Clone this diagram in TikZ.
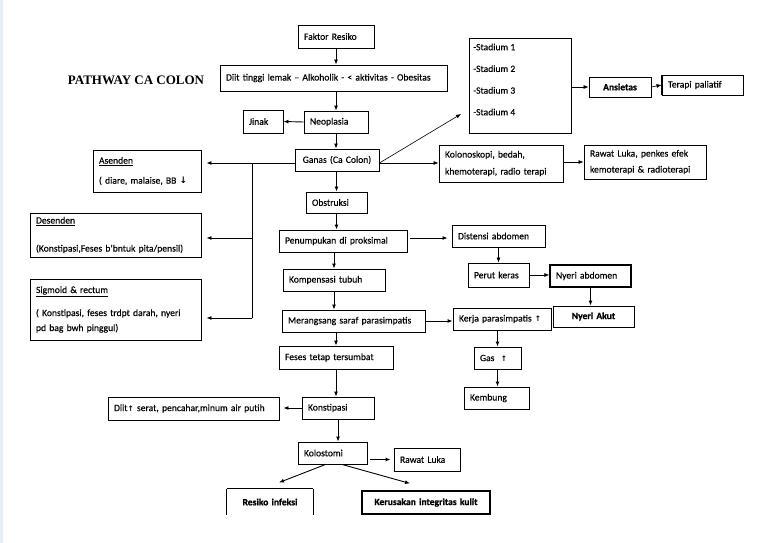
\documentclass[tikz,border=0pt]{standalone}
\usepackage{fontspec}
\setmainfont{Carlito}[UprightFeatures={FakeBold=0.25}]
\newfontfamily\cbold{Carlito Bold}[UprightFeatures={FakeBold=0.9}]
\newfontfamily\titlefont{Liberation Serif}
\newfontfamily\arrfont{DejaVu Sans}
\usetikzlibrary{arrows.meta,calc}
\newcommand{\upar}{{\arrfont\bfseries\fontsize{7.5}{8}\selectfont ↑}}
\newcommand{\dnar}{{\arrfont\bfseries\fontsize{9}{8}\selectfont ↓}}
\begin{document}
\begin{tikzpicture}[x=1pt,y=-1pt,
  box/.style={draw=black,line width=0.9pt,inner xsep=6pt,inner ysep=0pt,align=left,
    font=\fontsize{9.6}{15}\selectfont,anchor=center},
  cbox/.style={box,align=center,font=\cbold\fontsize{9.6}{15}\selectfont},
  arr/.style={draw=black,line width=0.9pt,-{Latex[length=5pt,width=4pt]}},
  thinarr/.style={arr,line width=0.6pt},
  ln/.style={draw=black,line width=0.9pt}]
\useasboundingbox (0,0) rectangle (768,543);
\fill[fill={rgb,255:red,232;green,238;blue,248}] (0,0) rectangle (3,543);

% title
\node[font=\titlefont\bfseries\fontsize{13}{15}\selectfont] (title) at (136,80) {PATHWAY CA COLON};

% centre column
\node[box,minimum width=76pt,minimum height=23pt,text width=64pt] (faktor) at (336,36.5) {Faktor Resiko};
\node[box,minimum width=227pt,minimum height=26pt,text width=215pt] (diit1) at (333.5,78) {Diit tinggi lemak -- Alkoholik - < aktivitas - Obesitas};
\node[box,minimum width=64pt,minimum height=22pt,text width=52pt] (neo) at (336,122) {Neoplasia};
\node[box,minimum width=40pt,minimum height=23pt,text width=28pt] (jinak) at (263,121.5) {Jinak};
\node[box,minimum width=84pt,minimum height=22pt,text width=72pt,align=center] (ganas) at (337,160) {Ganas (Ca Colon)};
\node[box,minimum width=102pt,minimum height=95pt,text width=90pt] (stad) at (520,85.5) {};
\node[anchor=west,align=left,inner sep=0pt,font=\fontsize{9.6}{21.7}\selectfont] (stadtext) at (473,79.5) {-Stadium 1\\-Stadium 2\\-Stadium 3\\-Stadium 4};
\node[cbox,minimum width=62pt,minimum height=20pt,text width=50pt] (ansi) at (620,87) {Ansietas};
\node[box,minimum width=81pt,minimum height=20pt,text width=69pt] (terapi) at (702.5,85) {Terapi paliatif};
\draw[line width=1.6pt] (terapi.north west) -- (terapi.south west);
\node[box,minimum width=124pt,minimum height=37pt,text width=112pt,font=\fontsize{9.6}{17}\selectfont] (kolo) at (501,163.5) {Kolonoskopi, bedah,\\khemoterapi, radio terapi};
\node[box,minimum width=122pt,minimum height=34pt,text width=110pt,font=\fontsize{9.6}{16}\selectfont] (rawat1) at (645,162) {Rawat Luka, penkes efek\\kemoterapi \& radioterapi};

% left boxes
\node[box,minimum width=108pt,minimum height=42pt,text width=96pt] (asen) at (147,171) {\underline{Asenden}\\[5pt]( diare, malaise, BB \dnar};
\node[box,minimum width=171pt,minimum height=44pt,text width=159pt] (desen) at (115.5,235) {\underline{Desenden}\\[13pt](Konstipasi,Feses b'bntuk pita/pensil)};
\node[box,minimum width=171pt,minimum height=61pt,text width=159pt] (sigm) at (115.5,309.5) {\underline{Sigmoid \& rectum}\\[8pt]( Konstipasi, feses trdpt darah, nyeri\\pd bag bwh pinggul)};

% middle
\node[box,minimum width=61pt,minimum height=21pt,text width=49pt] (obs) at (336.5,202.5) {Obstruksi};
\node[box,minimum width=128pt,minimum height=22pt,text width=116pt] (penum) at (343,241) {Penumpukan di proksimal};
\node[box,minimum width=93pt,minimum height=22pt,text width=81pt] (dist) at (498.5,236) {Distensi abdomen};
\node[box,minimum width=102pt,minimum height=22pt,text width=90pt] (komp) at (334,280) {Kompensasi tubuh};
\draw[line width=1.6pt] (komp.north east) -- (komp.south east);
\node[box,minimum width=61pt,minimum height=24pt,text width=49pt] (perut) at (498.5,275) {Perut keras};
\node[box,line width=1.4pt,minimum width=81pt,minimum height=22pt,text width=69pt] (nyab) at (590.5,276) {Nyeri abdomen};
\node[cbox,minimum width=81pt,minimum height=21pt,text width=69pt] (nyak) at (593.5,316.5) {Nyeri Akut};
\node[box,minimum width=143pt,minimum height=22pt,text width=131pt] (meran) at (353.5,321) {Merangsang saraf parasimpatis};
\node[box,minimum width=98pt,minimum height=22pt,text width=86pt] (kerja) at (502,319) {Kerja parasimpatis \upar};
\node[box,minimum width=47pt,minimum height=22pt,text width=35pt] (gas) at (497.5,358) {Gas \ \upar};
\node[box,minimum width=65pt,minimum height=22pt,text width=53pt] (kemb) at (496.5,398) {Kembung};
\node[box,minimum width=114pt,minimum height=23pt,text width=102pt] (feses) at (336,357.5) {Feses tetap tersumbat};
\node[box,minimum width=72pt,minimum height=22pt,text width=60pt] (kons) at (338,408) {Konstipasi};
\node[box,minimum width=171pt,minimum height=23pt,text width=159pt] (diit2) at (193.5,408.5) {Diit\upar\ serat, pencahar,minum air putih};
\node[box,minimum width=69pt,minimum height=22pt,text width=57pt] (kolos) at (332.5,453) {Kolostomi};
\node[box,minimum width=66pt,minimum height=23pt,text width=54pt] (rawat2) at (427,459.5) {Rawat Luka};
\node[cbox,draw=none,minimum width=86pt,minimum height=26pt,text width=74pt] (resiko) at (270,502) {Resiko infeksi};
\draw[line width=1.4pt] (resiko.north west) -- (resiko.north east);
\draw[ln] (resiko.north west) -- (resiko.south west);
\draw[ln] (resiko.north east) -- (resiko.south east);
\node[cbox,line width=1.1pt,minimum width=128pt,minimum height=23pt,text width=116pt] (kerus) at (426,502.5) {Kerusakan integritas kulit};

% connectors
\draw[arr] (faktor.south) -- (faktor.south |- diit1.north);
\draw[arr] (neo.north |- diit1.south) -- (neo.north);
\draw[arr] (neo.west) -- (jinak.east);
\draw[arr] (neo.south) -- (neo.south |- ganas.north);
\coordinate (stadtip) at (461,114);
\draw[thinarr] ([yshift=-3pt]ganas.east) -- (stadtip);
\draw[thinarr] ([yshift=-3pt]ganas.east) -- ([yshift=-3pt]ganas.east -| kolo.west);
\draw[thinarr] (stad.east |- ansi.west) -- (ansi.west);
\draw[thinarr] (ansi.east) -- (terapi.west);
\draw[thinarr] (kolo.east |- rawat1.west) -- (rawat1.west);

\coordinate (busT) at (252,163);
\coordinate (busD) at (252,238);
\coordinate (busS) at (252,318);
\draw[ln] ([yshift=-3pt]ganas.west) -- (busT) -- (busS);
\draw[arr,shorten >=5pt] (busT) -- (busT -| asen.east);
\draw[arr,shorten >=5pt] (busD) -- (busD -| desen.east);
\draw[arr,shorten >=5pt] (busS) -- (busS -| sigm.east);

\draw[arr] (obs.north |- ganas.south) -- (obs.north);
\draw[arr] (obs.south) -- (obs.south |- penum.north);
\draw[arr,shorten <=3pt,shorten >=4pt] ([yshift=3pt]penum.east) -- ([yshift=3pt]penum.east -| dist.west);
\draw[thinarr] (dist.south) -- (dist.south |- perut.north);
\draw[arr] (komp.north |- penum.south) -- (komp.north);
\draw[arr] (komp.south) -- (komp.south |- meran.north);
\draw[thinarr] (perut.east) -- (perut.east -| nyab.west);
\draw[arr] (nyab.south) -- (nyab.south |- nyak.north);
\draw[arr] (meran.east) -- (meran.east -| kerja.west);
\draw[arr] (gas.north |- kerja.south) -- (gas.north);
\draw[arr] (gas.south) -- (gas.south |- kemb.north);
\draw[arr] (feses.north |- meran.south) -- (feses.north);
\draw[arr] (feses.south) -- (feses.south |- kons.north);
\draw[arr,shorten >=4pt] (kons.west) -- (kons.west -| diit2.east);
\draw[arr] (kons.south) -- (kons.south |- kolos.north);
\draw[arr,shorten <=3pt,shorten >=3pt] (kolos.east |- rawat2.west) -- (rawat2.west);
\draw[arr] ([xshift=-7pt]kolos.south) -- ([xshift=9pt,yshift=6pt]resiko.north);
\draw[arr] ([xshift=9.5pt]kolos.south) -- ([xshift=-16pt,yshift=7pt]kerus.north);
\end{tikzpicture}
\end{document}
